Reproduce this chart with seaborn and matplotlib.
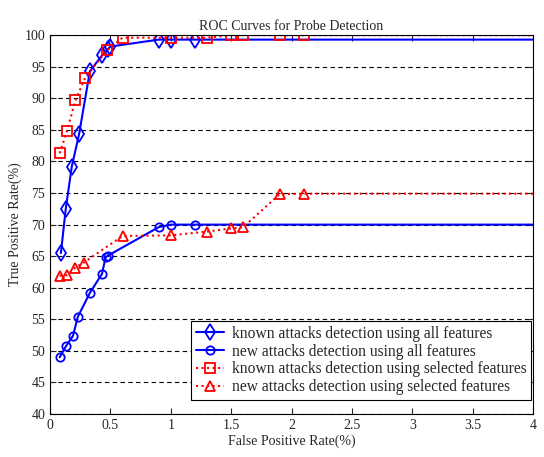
import numpy as np
import pandas as pd
import matplotlib
matplotlib.use("Agg")
import matplotlib.pyplot as plt
import seaborn as sns

# Data (last point of each series is the flat tail to x=4)
known_all_x = [0.09, 0.13, 0.18, 0.24, 0.33, 0.43, 0.48, 0.50, 0.90, 1.0, 1.2, 4.0]
known_all_y = [65.5, 72.5, 79.2, 84.3, 94.3, 96.8, 97.8, 98.2, 99.3, 99.3, 99.3, 99.3]

new_all_x = [0.08, 0.13, 0.19, 0.23, 0.33, 0.43, 0.46, 0.48, 0.90, 1.0, 1.2, 4.0]
new_all_y = [49.0, 50.7, 52.4, 55.4, 59.2, 62.2, 64.8, 65.1, 69.6, 70.0, 70.0, 70.0]

known_sel_x = [0.08, 0.14, 0.21, 0.29, 0.47, 0.60, 1.0, 1.3, 1.5, 1.6, 1.9, 2.1, 4.0]
known_sel_y = [81.3, 84.8, 89.7, 93.2, 97.6, 99.6, 99.6, 99.6, 100.0, 100.0, 100.0, 100.0, 100.0]

new_sel_x = [0.08, 0.14, 0.21, 0.28, 0.60, 1.0, 1.3, 1.5, 1.6, 1.9, 2.1, 4.0]
new_sel_y = [61.9, 62.0, 63.2, 64.0, 68.2, 68.3, 68.9, 69.4, 69.6, 74.8, 74.9, 74.9]

labels = [
    "known attacks detection using all features",
    "new attacks detection using all features",
    "known attacks detection using selected features",
    "new attacks detection using selected features",
]

sns.set_style("ticks")
plt.rcParams["font.family"] = ["Liberation Serif", "DejaVu Serif"]
plt.rcParams["xtick.direction"] = "in"
plt.rcParams["ytick.direction"] = "in"

fig = plt.figure(figsize=(5.44, 4.57), dpi=100)
ax = fig.add_axes([0.092, 0.094, 0.888, 0.829])

series = [
    (known_all_x, known_all_y, "blue", "-", "d", 8),
    (new_all_x, new_all_y, "blue", "-", "o", 6),
    (known_sel_x, known_sel_y, "red", ":", "s", 7),
    (new_sel_x, new_sel_y, "red", ":", "^", 7),
]

for (xs, ys, color, ls, mk, ms), lab in zip(series, labels):
    df = pd.DataFrame({"fpr": xs, "tpr": ys})
    sns.lineplot(data=df, x="fpr", y="tpr", ax=ax, color=color, linestyle=ls,
                 linewidth=1.5, marker=mk, markersize=ms, markerfacecolor="none",
                 markeredgecolor=color, markeredgewidth=1.3,
                 markevery=list(range(len(xs) - 1)),
                 estimator=None, sort=False, label=lab)

ax.set_xlim(0, 4)
ax.set_ylim(40, 100)
ax.set_xticks(np.arange(0, 4.01, 0.5))
ax.set_xticklabels(["0", "0.5", "1", "1.5", "2", "2.5", "3", "3.5", "4"])
ax.set_yticks(np.arange(40, 101, 5))
ax.yaxis.grid(True, linestyle=(0, (4, 3)), color="black", linewidth=0.8)
ax.tick_params(axis="both", labelsize=10, top=True, right=True, length=4)
for sp in ax.spines.values():
    sp.set_linewidth(0.8)
    sp.set_color("black")

ax.set_xlabel("False Positive Rate(%)", fontsize=10, labelpad=2)
ax.set_ylabel("True Positive Rate(%)", fontsize=10, labelpad=2)
ax.set_title("ROC Curves for Probe Detection", fontsize=10, pad=4)

leg = ax.legend(loc="lower right", bbox_to_anchor=(0.996, 0.037), fontsize=11.2,
                frameon=True, fancybox=False, edgecolor="black", framealpha=1,
                handlelength=1.8, handletextpad=0.5, borderaxespad=0,
                labelspacing=0.12, borderpad=0.3)
leg.get_frame().set_linewidth(0.8)

fig.savefig("out.png", dpi=100)
